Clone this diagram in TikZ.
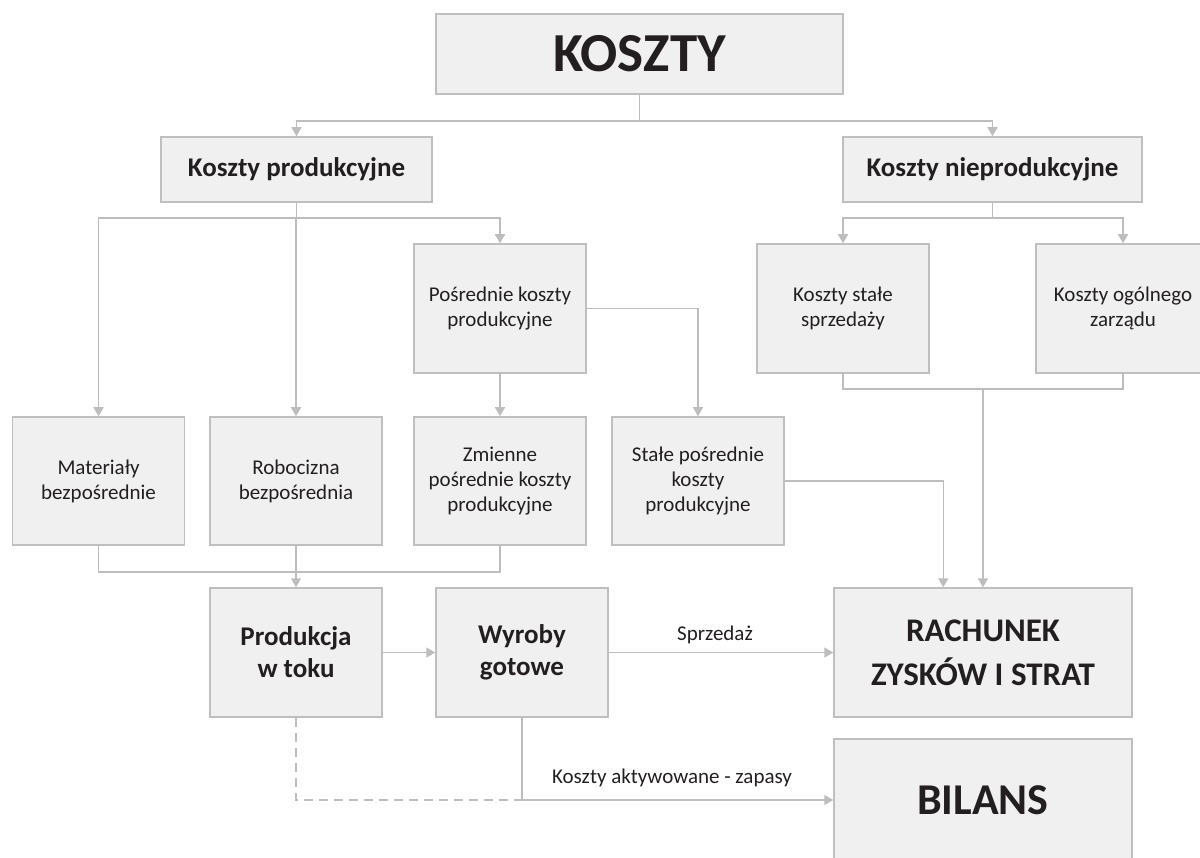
\documentclass[tikz,border=0pt]{standalone}
\usepackage{fontspec}
\setmainfont{Carlito}
\usetikzlibrary{arrows.meta}
\definecolor{boxfill}{HTML}{F0F0F0}
\definecolor{boxline}{HTML}{BFBFBF}
\definecolor{conn}{HTML}{BDBDBD}
\definecolor{txt}{HTML}{231F20}
\tikzset{
  box/.style={draw=boxline, fill=boxfill, line width=1.5pt, inner sep=0pt, align=center, text=txt,
              font=\fontsize{21}{25}\selectfont},
  smallbox/.style={box, minimum width=172pt, minimum height=129pt},
  boldbox/.style={box, font=\fontsize{27}{32}\selectfont\bfseries},
  conline/.style={draw=conn, line width=1.5pt},
  arr/.style={conline, -{Triangle[length=9pt,width=10pt]}},
  lbl/.style={text=txt, inner sep=0pt, font=\fontsize{21}{25}\selectfont},
}
\begin{document}
\begin{tikzpicture}[x=1pt,y=-1pt]
\useasboundingbox (0,0) rectangle (1200,858);
% top
\node[boldbox, font=\fontsize{55}{60}\selectfont\bfseries, minimum width=407pt, minimum height=80pt] (K) at (639.5,54) {KOSZTY};
\node[boldbox, minimum width=271pt, minimum height=65pt] (KP) at (296.5,169.5) {Koszty produkcyjne};
\node[boldbox, minimum width=299pt, minimum height=65pt] (KN) at (992.5,169.5) {Koszty nieprodukcyjne};
% second level
\node[smallbox] (PK) at (500,308.5) {Pośrednie koszty\\produkcyjne};
\node[smallbox] (KS) at (843,308.5) {Koszty stałe\\sprzedaży};
\node[smallbox, minimum width=174pt] (KO) at (1123,308.5) {Koszty ogólnego\\zarządu};
% third level
\node[smallbox, minimum height=128pt] (M) at (98.5,481) {Materiały\\bezpośrednie};
\node[smallbox, minimum height=128pt] (R) at (296,481) {Robocizna\\bezpośrednia};
\node[smallbox, minimum height=128pt] (Z) at (500,481) {Zmienne\\pośrednie koszty\\produkcyjne};
\node[smallbox, minimum height=128pt] (S) at (698,481) {Stałe pośrednie\\koszty\\produkcyjne};
% bottom
\node[boldbox, minimum width=172pt, minimum height=129pt] (P) at (296,652.5) {Produkcja\\w toku};
\node[boldbox, minimum width=172pt, minimum height=129pt] (W) at (522,652.5) {Wyroby\\gotowe};
\node[box, font=\fontsize{33}{44}\selectfont\bfseries, minimum width=298pt, minimum height=129pt] (RZ) at (983,652.5) {RACHUNEK\\ZYSKÓW I STRAT};
\node[box, font=\fontsize{44}{50}\selectfont\bfseries, minimum width=298pt, minimum height=122pt] (B) at (983,800) {BILANS};
% connector junctions
\coordinate (k1) at (639.5,121);
\coordinate (kp1) at (296.5,218);
\coordinate (kn1) at (992.5,218);
\coordinate (m1) at (296,572);
\coordinate (ks1) at (983,389);
\coordinate (c1) at (522,800);
% connectors
\draw[conline] (K.south) -- (k1);
\draw[arr] (k1) -| (KP.north);
\draw[arr] (k1) -| (KN.north);
\draw[conline] (KP.south) -- (kp1);
\draw[arr] (kp1) -| (M.north);
\draw[arr] (kp1) -| (R.north);
\draw[arr] (kp1) -| (PK.north);
\draw[conline] (KN.south) -- (kn1);
\draw[arr] (kn1) -| (KS.north);
\draw[arr] (kn1) -| (KO.north);
\draw[arr] (PK.south) -- (Z.north);
\draw[arr] (PK.east) -| (S.north);
\draw[conline] (M.south) |- (m1);
\draw[conline] (Z.south) |- (m1);
\draw[conline] (R.south) -- (m1);
\draw[arr] (m1) -- (P.north);
\draw[arr] (S.east) -| ([xshift=110pt]RZ.north west);
\draw[conline] (KS.south) |- (ks1);
\draw[conline] (KO.south) |- (ks1);
\draw[arr] (ks1) -- (RZ.north);
\draw[arr] (P.east) -- (W.west);
\draw[arr] (W.east) -- (RZ.west);
\draw[conline, dash pattern=on 9pt off 6pt] (P.south) |- (c1);
\draw[arr] (W.south) |- (B.west);
% labels
\node[lbl, anchor=base] (ls) at (715,640) {Sprzedaż};
\node[lbl, anchor=base] (lk) at (672,783) {Koszty aktywowane - zapasy};
\end{tikzpicture}
\end{document}
